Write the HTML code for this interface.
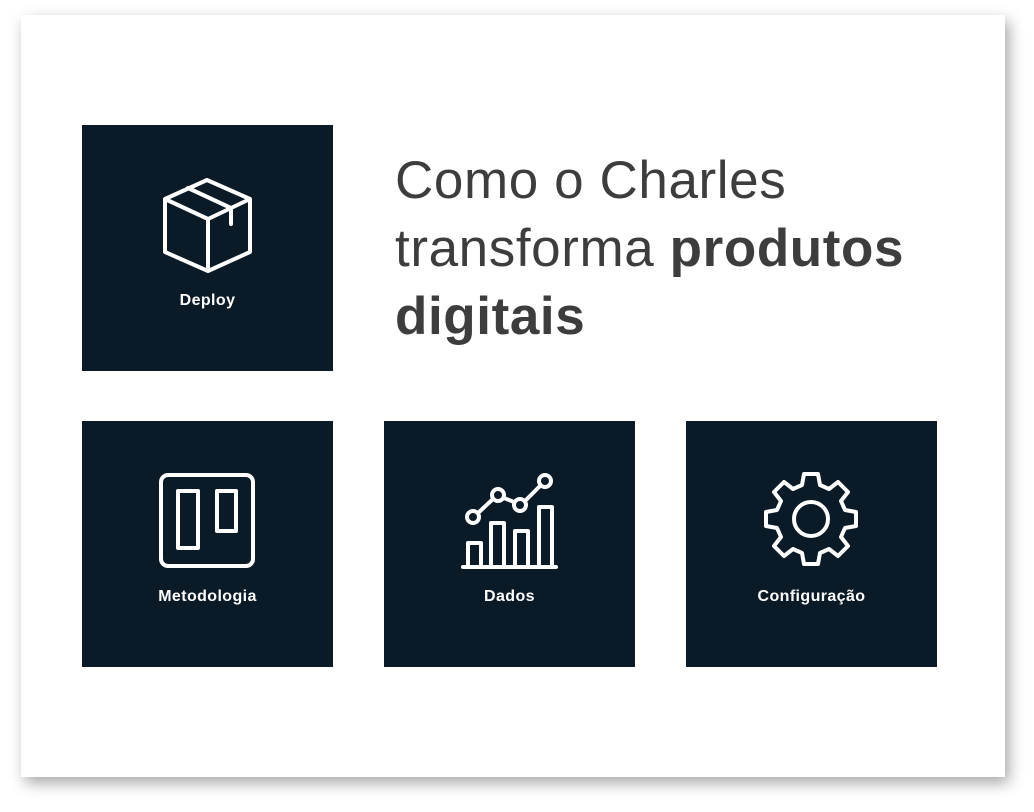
<!DOCTYPE html>
<html><head><style>
body{margin:0;width:1034px;height:812px;background:#fff;position:relative;overflow:hidden;font-family:"Liberation Sans",sans-serif}
.card{position:absolute;left:21px;top:15px;width:984px;height:762px;background:#fff;box-shadow:4px 6px 14px rgba(0,0,0,.35)}
.t{position:absolute;background:#0a1a26;width:251px;height:246px}
.l{position:absolute;left:0;right:0;text-align:center;color:#fff;font-weight:bold;font-size:16px;letter-spacing:0.4px;top:167px}
svg{position:absolute;left:0;top:0}
.h{position:absolute;left:395px;top:147px;font-size:53px;line-height:68px;color:#3d3d3d;letter-spacing:0.6px}
</style></head><body>
<div class="card"></div>
<div class="t" style="left:82px;top:125px"><div class="l">Deploy</div></div>
<div class="t" style="left:82px;top:421px"><div class="l">Metodologia</div></div>
<div class="t" style="left:384px;top:421px"><div class="l">Dados</div></div>
<div class="t" style="left:686px;top:421px"><div class="l">Configuração</div></div>
<div class="h">Como o Charles<br>transforma <b>produtos</b><br><b>digitais</b></div>
<svg width="1034" height="812" fill="none" stroke="#fff" stroke-width="4" stroke-linejoin="round" stroke-linecap="round">
<path d="M207 180 L250 199 L250 252 L208 271 L165 252 L165 199 Z M165 199 L208 219 L250 199 M208 219 L208 271 M188 188 L231 208 L231 224"/>
<rect x="161" y="475" width="92" height="91" rx="7"/>
<rect x="178" y="491" width="20" height="57"/>
<rect x="217" y="491" width="19" height="40"/>
<path d="M463 567 H556"/>
<rect x="468" y="543" width="13" height="24"/>
<rect x="491" y="523" width="13" height="44"/>
<rect x="515" y="531" width="13" height="36"/>
<rect x="539" y="507" width="13" height="60"/>
<path d="M478 513 L493 499 M504 498 L514 502 M525 501 L540 486"/>
<circle cx="473" cy="517" r="6"/><circle cx="498" cy="495" r="6"/><circle cx="520" cy="505" r="6"/><circle cx="545" cy="481" r="6"/>
<g transform="translate(811 519)">
<circle r="17"/>
<path d="M-7 -45 L7 -45 L9 -34 L18 -30 L27 -37 L37 -27 L30 -18 L34 -9 L45 -7 L45 7 L34 9 L30 18 L37 27 L27 37 L18 30 L9 34 L7 45 L-7 45 L-9 34 L-18 30 L-27 37 L-37 27 L-30 18 L-34 9 L-45 7 L-45 -7 L-34 -9 L-30 -18 L-37 -27 L-27 -37 L-18 -30 L-9 -34 Z"/>
</g>
</svg>
</body></html>
